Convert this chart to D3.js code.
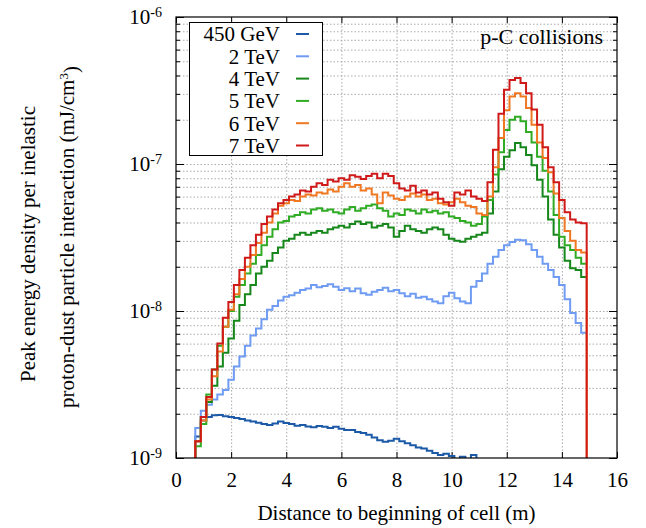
<!DOCTYPE html>
<html>
<head>
<meta charset="utf-8">
<script src="https://cdn.jsdelivr.net/npm/d3@7"></script>
<style>
  body { margin: 0; background: #fff; }
  text { font-family: "Liberation Serif", "Times New Roman", serif; fill: #000; }
  .grid line { stroke: #aaa; stroke-dasharray: 1.5, 2; }
  .grid path { display: none; }
  .axis path { display: none; }
  .axis line { stroke: #000; }
</style>
</head>
<body>
<div id="chart"></div>
<script>
// histogram bins along the cell (m)
const bin_start = 0.7;
const bin_width = 0.2;

// peak energy density, in units of 1e-9 mJ/cm3, one value per bin
const e_450gev = [1.4, 1.8, 1.9, 1.95, 1.96, 1.92, 1.9, 1.87, 1.84, 1.8, 1.77, 1.74, 1.7, 1.68, 1.72, 1.77, 1.73, 1.7, 1.66, 1.68,
  1.64, 1.62, 1.65, 1.63, 1.6, 1.63, 1.58, 1.55, 1.55, 1.5, 1.48, 1.44, 1.38, 1.32, 1.29, 1.31, 1.35, 1.3, 1.26, 1.22,
  1.18, 1.16, 1.12, 1.08, 1.05, 1.07, 1.03, 0.98, 1.02, 0.97, 1.05, 0.95];
const e_2tev = [1.6, 2.1, 2.3, 2.5, 2.7, 2.9, 3.4, 4.2, 4.9, 5.8, 6.8, 7.6, 8.8, 10.2, 10.8, 11.8, 12.5, 12.8, 13.3, 13.9,
  14.2, 15, 14.5, 14.8, 15.2, 14.6, 13.9, 14.3, 13.6, 14.2, 13.2, 12.9, 13.5, 13.9, 14.4, 13.6, 13.9, 13.2, 12.6, 13.1,
  12.3, 12.5, 12.0, 11.6, 11.3, 12.6, 13.3, 12.2, 11.6, 11.3, 14.6, 16, 18, 21, 23.4, 26, 28, 29.5, 30.5, 30.3,
  28.5, 26, 23.4, 21, 19, 17, 15, 12, 9.7, 8.3, 7.1];
const e_4tev = [1.3, 1.9, 2.4, 3.1, 4.2, 5.2, 6.5, 8.6, 11, 13, 15, 18, 20, 22, 24.8, 27, 30, 31, 33, 34,
  33, 34, 35, 34, 36, 37, 38, 37, 39, 40.6, 39, 40, 37, 38, 39, 37, 32, 35, 38, 36,
  35, 34, 36, 37, 36, 33, 31, 30, 29.6, 31, 32, 33, 34, 46, 65, 92, 112, 124, 139, 130,
  115, 98, 78, 60, 42, 33, 27, 22, 19.5, 19, 17];
const e_5tev = [1.2, 1.7, 2.7, 4.0, 5.8, 7.8, 10, 12.5, 15, 18, 21, 24, 28, 32, 36, 40, 41, 44, 45, 47,
  46, 49, 50, 48, 49, 47, 46, 49, 51, 48, 50, 52, 53, 50, 48, 44, 46, 45, 49, 48,
  46, 49, 47, 48, 46, 47, 44, 43, 41, 40, 38, 39, 44, 57, 85, 120, 170, 200, 210, 195,
  165, 140, 112, 90, 65, 45, 32, 28, 26, 23, 21];
const e_6tev = [1.3, 1.8, 2.5, 3.6, 5.3, 7.8, 10.2, 13, 16.5, 20, 24, 29, 34, 40, 46, 52, 54, 57, 56, 60,
  62, 61, 64, 63, 67, 65, 70, 74, 70, 72, 66, 68, 62, 54, 64, 61, 58, 57, 60, 63,
  60, 62, 57, 58, 54, 53, 55, 58, 55, 52, 51, 46, 45, 60, 95, 150, 232, 288, 303, 288,
  240, 185, 140, 110, 88, 63, 43, 35, 30, 26, 25];
const e_7tev = [1.3, 1.9, 2.6, 4.0, 6.0, 9.0, 11.5, 15, 19, 23, 28, 33, 39, 44, 49, 54, 57, 60, 62, 66,
  65, 70, 74, 72, 78, 76, 80, 78, 84, 82, 79, 83, 86, 80, 86, 83, 74, 68, 66, 71,
  64, 66, 62, 64, 58, 55, 52, 64, 62, 66, 60, 58, 56, 75, 125, 220, 320, 373, 385, 355,
  303, 235, 185, 130, 95, 75, 57, 47, 42, 40, 39.6];

const series_labels = ['450 GeV', '2 TeV', '4 TeV', '5 TeV', '6 TeV', '7 TeV'];
const series_colors = ['#1c5aa8', '#6f9cf2', '#16871a', '#2fab24', '#f07822', '#d01a1a'];
const series_values = [e_450gev, e_2tev, e_4tev, e_5tev, e_6tev, e_7tev];
const series_drop = [false, false, false, false, true, true];

const x_ticks = [0, 2, 4, 6, 8, 10, 12, 14, 16];
const x_grid = [2, 4, 6, 8, 10, 12, 14];
const y_decades = [1e-9, 1e-8, 1e-7, 1e-6];

function chart(options) {
  const id = '#' + options.id;
  const svg_width = options.width || 646;
  const svg_height = options.height || 528;

  const margin = { top: 17, right: 29, bottom: 70, left: 176 },
    width = svg_width - margin.left - margin.right,
    height = svg_height - margin.top - margin.bottom;

  const root = d3.select(id)
    .append('svg')
    .attr('width', svg_width)
    .attr('height', svg_height)
    .style('background', '#fff');
  const svg = root.append('g')
    .attr('transform', 'translate(' + margin.left + ',' + margin.top + ')');

  const x = d3.scaleLinear().domain([0, 16]).range([0, width]);
  const y = d3.scaleLog().domain([1e-9, 1e-6]).range([height, 0]);

  // minor positions on the log axis
  let y_minor = [];
  y_decades.slice(0, 3).forEach(function (d) {
    for (let m = 2; m <= 9; m++) y_minor.push(d * m);
  });
  const y_grid = y_minor.concat([1e-8, 1e-7]);

  // dotted grid
  svg.append('g')
    .attr('class', 'grid')
    .attr('transform', 'translate(0,' + height + ')')
    .call(d3.axisBottom(x).tickValues(x_grid).tickSize(-height).tickFormat(''));
  svg.append('g')
    .attr('class', 'grid')
    .call(d3.axisLeft(y).tickValues(y_grid).tickSize(-width).tickFormat(''));

  // axes with inward ticks
  svg.append('g')
    .attr('class', 'axis')
    .attr('transform', 'translate(0,' + height + ')')
    .call(d3.axisBottom(x).tickValues(x_ticks).tickSizeInner(-6).tickSizeOuter(0).tickPadding(14))
    .selectAll('text')
    .style('font-size', '21px');
  svg.append('g')
    .attr('class', 'axis')
    .call(d3.axisTop(x).tickValues(x_ticks).tickSizeInner(-6).tickSizeOuter(0).tickFormat(''));

  svg.append('g')
    .attr('class', 'axis')
    .call(d3.axisLeft(y).tickValues(y_minor).tickSizeInner(-4).tickSizeOuter(0).tickFormat(''));
  svg.append('g')
    .attr('class', 'axis')
    .attr('transform', 'translate(' + width + ',0)')
    .call(d3.axisRight(y).tickValues(y_minor).tickSizeInner(-4).tickSizeOuter(0).tickFormat(''));
  svg.append('g')
    .attr('class', 'axis')
    .attr('transform', 'translate(' + width + ',0)')
    .call(d3.axisRight(y).tickValues(y_decades).tickSizeInner(-8).tickSizeOuter(0).tickFormat(''));

  svg.append('g')
    .attr('class', 'axis')
    .call(d3.axisLeft(y).tickValues(y_decades).tickSizeInner(-8).tickSizeOuter(0).tickPadding(14))
    .selectAll('text')
    .style('font-size', '21px')
    .each(function (d) {
      const t = d3.select(this);
      t.text('10');
      t.append('tspan')
        .attr('dy', '-0.55em')
        .style('font-size', '14px')
        .text(String(Math.round(Math.log10(d))));
    });

  // histogram steps
  svg.append('clipPath')
    .attr('id', 'plot-clip')
    .append('rect')
    .attr('width', width)
    .attr('height', height);

  const floor = 1e-10;
  function steps(values, drop) {
    let pts = [[bin_start, floor]];
    values.forEach(function (v, i) {
      pts.push([bin_start + i * bin_width, v * 1e-9]);
    });
    const end = bin_start + values.length * bin_width;
    pts.push([end, values[values.length - 1] * 1e-9]);
    if (drop) pts.push([end, floor]);
    return pts;
  }

  const line = d3.line()
    .x(function (d) { return x(d[0]); })
    .y(function (d) { return y(d[1]); })
    .curve(d3.curveStepAfter);

  svg.append('g')
    .attr('clip-path', 'url(#plot-clip)')
    .selectAll('path')
    .data(series_values)
    .enter()
    .append('path')
    .attr('d', function (d, i) { return line(steps(d, series_drop[i])); })
    .attr('fill', 'none')
    .attr('stroke', function (d, i) { return series_colors[i]; })
    .attr('stroke-width', 2);

  // frame
  svg.append('rect')
    .attr('width', width)
    .attr('height', height)
    .attr('fill', 'none')
    .attr('stroke', '#000')
    .attr('stroke-width', 1.2);

  // legend
  const legend = root.append('g');
  legend.append('rect')
    .attr('x', 189.5)
    .attr('y', 22.5)
    .attr('width', 133)
    .attr('height', 133)
    .attr('fill', '#fff')
    .attr('stroke', '#000')
    .attr('stroke-width', 1);
  const rows = legend.selectAll('.row')
    .data(series_labels)
    .enter()
    .append('g')
    .attr('transform', function (d, i) { return 'translate(0,' + (34 + i * 22.3) + ')'; });
  rows.append('text')
    .attr('x', 280)
    .attr('dy', '0.35em')
    .attr('text-anchor', 'end')
    .style('font-size', '21px')
    .text(function (d) { return d; });
  rows.append('line')
    .attr('x1', 296)
    .attr('x2', 309)
    .attr('stroke', function (d, i) { return series_colors[i]; })
    .attr('stroke-width', 2);

  root.append('text')
    .attr('x', 603)
    .attr('y', 44)
    .attr('text-anchor', 'end')
    .style('font-size', '22px')
    .text('p-C collisions');

  // axis titles
  root.append('text')
    .attr('x', margin.left + width / 2)
    .attr('y', 520)
    .attr('text-anchor', 'middle')
    .style('font-size', '21px')
    .text('Distance to beginning of cell (m)');

  root.append('text')
    .attr('transform', 'translate(35,244) rotate(-90)')
    .attr('text-anchor', 'middle')
    .style('font-size', '21px')
    .text('Peak energy density per inelastic');
  const t2 = root.append('text')
    .attr('transform', 'translate(74,237) rotate(-90)')
    .attr('text-anchor', 'middle')
    .style('font-size', '21px')
    .text('proton-dust particle interaction (mJ/cm');
  t2.append('tspan').attr('dy', '-0.5em').style('font-size', '13px').text('3');
  t2.append('tspan').attr('dy', '0.5em').text(')');

  return { svg: svg, x: x, y: y };
}

chart({ id: 'chart', width: 646, height: 528 });
</script>
</body>
</html>
